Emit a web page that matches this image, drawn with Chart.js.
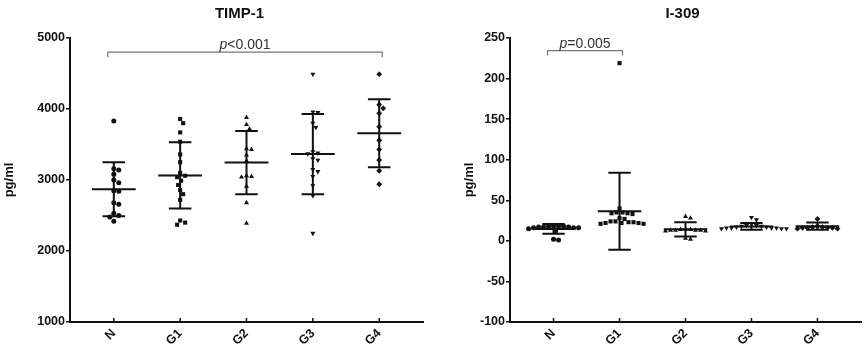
<!DOCTYPE html>
<html>
<head>
<meta charset="utf-8">
<title>TIMP-1 / I-309</title>
<script src="https://cdn.jsdelivr.net/npm/chart.js@4.4.0/dist/chart.umd.min.js"></script>
<style>
  body { margin: 0; background: #fff; width: 865px; height: 347px; position: relative; overflow: hidden; }
  canvas { position: absolute; top: 0; }
  #timp { left: 0; }
  #i309 { left: 440px; }
</style>
</head>
<body>
<canvas id="timp" width="450" height="347"></canvas>
<canvas id="i309" width="425" height="347"></canvas>
<script>
// groups and marker per group
var groups = ["N", "G1", "G2", "G3", "G4"];
var markers = ["circle", "rect", "triangle", "triangle", "rectRot"];
var markerRot = [0, 0, 0, 180, 0];

// TIMP-1 (pg/ml)
var timpTicks = [1000, 2000, 3000, 4000, 5000];
var timpN  = [3830, 3160, 3140, 3080, 3000, 2960, 2850, 2840, 2680, 2660, 2530, 2500, 2480, 2420];
var timpG1 = [3860, 3800, 3670, 3540, 3360, 3250, 3100, 3060, 3040, 2990, 2930, 2860, 2800, 2720, 2430, 2400, 2370];
var timpG2 = [3880, 3780, 3720, 3440, 3430, 3350, 3270, 3060, 3050, 3040, 2910, 2680, 2390];
var timpG3 = [4490, 3960, 3950, 3800, 3740, 3400, 3380, 3370, 3300, 3280, 3150, 3120, 3050, 2920, 2780, 2250];
var timpG4 = [4490, 4060, 4010, 3940, 3750, 3560, 3430, 3280, 3130, 2940];
var timpMean = [2870, 3065, 3245, 3365, 3658];
var timpSD   = [380, 465, 445, 565, 478];

// I-309 (pg/ml)
var i309Ticks = [-100, -50, 0, 50, 100, 150, 200, 250];
var i309N  = [18, 18, 17, 17, 16, 16, 16, 17, 18, 18, 15, 12, 1, 2];
var i309G1 = [219, 40, 35, 34, 33, 34, 35, 28, 27, 24, 23, 22, 21, 21, 22, 22, 23, 24];
var i309G2 = [30, 28, 14, 13, 12, 13, 14, 12, 13, 14, 13, 3, 2];
var i309G3 = [29, 26, 21, 19, 18, 17, 16, 16, 15, 15, 15, 16, 17, 18, 19, 16];
var i309G4 = [27, 18, 17, 17, 16, 16, 16, 15, 15, 16];
var i309Mean = [14.7, 36.5, 14.2, 17.8, 18.1];
var i309SD   = [6, 47.5, 8.8, 4.2, 4.5];

var FONT = "'Liberation Sans', Arial, Helvetica, sans-serif";
var INK = "#111";

function makeSets(lists) {
    return lists.map(function (vals, gi) {
        return {
            label: groups[gi],
            data: vals.map(function (v) { return { x: gi, y: v }; }),
            pointStyle: markers[gi],
            rotation: markerRot[gi],
            pointRadius: gi === 0 ? 2.5 : 2.9,
            backgroundColor: INK,
            borderColor: INK,
            borderWidth: 0,
            showLine: false
        };
    });
}

// spread overlapping points sideways (beeswarm style)
var swarmPlugin = {
    id: "swarm",
    afterDatasetsUpdate: function (chart) {
        var xs = chart.scales.x;
        chart.data.datasets.forEach(function (ds, di) {
            var meta = chart.getDatasetMeta(di);
            var x0 = xs.getPixelForValue(di);
            var pts = meta.data.map(function (el) { return { el: el, y: el.y, x: x0 }; });
            pts.sort(function (a, b) { return a.y - b.y; });
            var placed = [];
            var d = 5;
            pts.forEach(function (p) {
                for (var k = 0; k < 80; k++) {
                    var off = (k % 2 ? 1 : -1) * Math.ceil(k / 2);
                    var cx = x0 + off;
                    var ok = placed.every(function (q) {
                        return Math.hypot(q.x - cx, q.y - p.y) >= d;
                    });
                    if (ok) { p.x = cx; break; }
                }
                placed.push(p);
                p.el.x = p.x;
            });
        });
    }
};

// mean +/- SD bars, inward x ticks, bracket, title
var decoPlugin = {
    id: "deco",
    afterDatasetsDraw: function (chart, args, opts) {
        var ctx = chart.ctx, xs = chart.scales.x, ys = chart.scales.y;
        var area = chart.chartArea;
        ctx.save();
        ctx.strokeStyle = INK;
        ctx.lineWidth = 2;
        opts.means.forEach(function (m, i) {
            var cx = xs.getPixelForValue(i);
            var wMean = xs.getPixelForValue(i + 0.33) - cx;
            var wCap = xs.getPixelForValue(i + 0.17) - cx;
            var yM = ys.getPixelForValue(m);
            var yT = ys.getPixelForValue(m + opts.sds[i]);
            var yB = ys.getPixelForValue(m - opts.sds[i]);
            ctx.beginPath();
            ctx.moveTo(cx - wMean, yM); ctx.lineTo(cx + wMean, yM);
            ctx.moveTo(cx - wCap, yT); ctx.lineTo(cx + wCap, yT);
            ctx.moveTo(cx - wCap, yB); ctx.lineTo(cx + wCap, yB);
            ctx.moveTo(cx, yT); ctx.lineTo(cx, yB);
            ctx.stroke();
        });
        // x ticks pointing up into the plot
        ctx.lineWidth = 1.5;
        xs.ticks.forEach(function (t) {
            var px = xs.getPixelForValue(t.value);
            ctx.beginPath();
            ctx.moveTo(px, area.bottom);
            ctx.lineTo(px, area.bottom - 4);
            ctx.stroke();
        });
        // significance bracket
        var b = opts.bracket;
        var x1 = xs.getPixelForValue(b.from) - 6, x2 = xs.getPixelForValue(b.to) + 3;
        var yb = ys.getPixelForValue(b.value);
        ctx.strokeStyle = "#777";
        ctx.lineWidth = 1.2;
        ctx.beginPath();
        ctx.moveTo(x1, yb + 5); ctx.lineTo(x1, yb); ctx.lineTo(x2, yb); ctx.lineTo(x2, yb + 5);
        ctx.stroke();
        ctx.fillStyle = "#333";
        ctx.textBaseline = "alphabetic";
        ctx.font = "italic 14px " + FONT;
        var wp = ctx.measureText("p").width;
        ctx.font = "14px " + FONT;
        var wr = ctx.measureText(b.text).width;
        var sx = (x1 + x2) / 2 - (wp + wr) / 2;
        ctx.font = "italic 14px " + FONT;
        ctx.textAlign = "left";
        ctx.fillText("p", sx, yb - 3);
        ctx.font = "14px " + FONT;
        ctx.fillText(b.text, sx + wp, yb - 3);
        // chart title
        ctx.fillStyle = INK;
        ctx.font = "bold 15px " + FONT;
        ctx.textAlign = "center";
        ctx.textBaseline = "middle";
        ctx.fillText(opts.title, (area.left + area.right) / 2 + opts.titleShift, 14);
        ctx.restore();
    }
};

function build(id, lists, ticksY, means, sds, cfg) {
    new Chart(document.getElementById(id), {
        type: "scatter",
        data: { datasets: makeSets(lists) },
        plugins: [swarmPlugin, decoPlugin],
        options: {
            responsive: false,
            animation: false,
            devicePixelRatio: 1,
            layout: { padding: { left: 0, top: 38, right: cfg.padRight, bottom: 0 } },
            plugins: {
                legend: { display: false },
                tooltip: { enabled: false },
                deco: { means: means, sds: sds, bracket: cfg.bracket, title: cfg.title, titleShift: cfg.titleShift }
            },
            scales: {
                x: {
                    type: "linear",
                    min: -0.66, max: 4.66,
                    afterBuildTicks: function (s) { s.ticks = groups.map(function (g, i) { return { value: i }; }); },
                    afterFit: function (s) { s.height = 25; },
                    grid: { display: false, drawTicks: false },
                    border: { display: true, color: INK, width: 2 },
                    ticks: {
                        autoSkip: false, minRotation: 45, maxRotation: 45, padding: 4,
                        color: INK, font: { family: FONT, size: 12.5, weight: "bold" },
                        callback: function (v) { return groups[v]; }
                    }
                },
                y: {
                    min: ticksY[0], max: ticksY[ticksY.length - 1],
                    afterBuildTicks: function (s) { s.ticks = ticksY.map(function (v) { return { value: v }; }); },
                    afterFit: function (s) { s.width = cfg.axisWidth; },
                    grid: { drawOnChartArea: false, drawTicks: true, tickLength: 4, color: INK, lineWidth: 1.5 },
                    border: { display: true, color: INK, width: 2 },
                    ticks: {
                        padding: 1, color: INK, font: { family: FONT, size: 12.5, weight: "bold" },
                        callback: function (v) { return String(v); }
                    },
                    title: {
                        display: true, text: "pg/ml", color: INK,
                        font: { family: FONT, size: 13, weight: "bold" },
                        padding: { top: cfg.titlePad, bottom: 0 }
                    }
                }
            }
        }
    });
}

build("timp", [timpN, timpG1, timpG2, timpG3, timpG4], timpTicks, timpMean, timpSD, {
    padRight: 27, axisWidth: 70, titlePad: 2, title: "TIMP-1", titleShift: -7,
    bracket: { from: 0, to: 4, value: 4800, text: "<0.001" }
});
build("i309", [i309N, i309G1, i309G2, i309G3, i309G4], i309Ticks, i309Mean, i309SD, {
    padRight: 3, axisWidth: 70, titlePad: 22, title: "I-309", titleShift: -3,
    bracket: { from: 0, to: 1, value: 234.5, text: "=0.005" }
});
</script>
</body>
</html>
